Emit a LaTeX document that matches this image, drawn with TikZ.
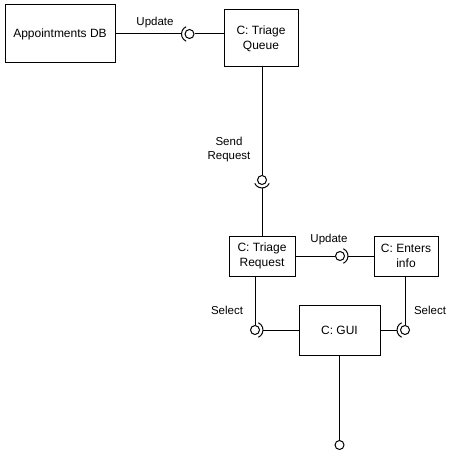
\documentclass[tikz,border=0pt]{standalone}
\usepackage{fontspec}
\setmainfont{Liberation Sans}
\begin{document}
\begin{tikzpicture}[x=1pt,y=-1pt,
  box/.style={draw, line width=1pt, align=center, font=\fontsize{12}{15}\selectfont, inner sep=0pt},
  lolli/.style={draw, circle, minimum size=9pt, inner sep=0pt, line width=1pt},
  wire/.style={line width=1pt},
  sock/.style={line width=1pt},
  lbl/.style={font=\fontsize{11.5}{14}\selectfont, align=center, inner sep=0pt}]
\useasboundingbox (0,0) rectangle (465,462);
% boxes
\node[box, minimum width=110pt, minimum height=58pt] (db) at (60,34) {Appointments DB};
\node[box, minimum width=74pt, minimum height=57pt] (queue) at (261,38.5) {C: Triage\\Queue};
\node[box, minimum width=66pt, minimum height=40pt] (req) at (262,256) {C: Triage\\Request};
\node[box, minimum width=64pt, minimum height=40pt] (ent) at (406,256) {C: Enters\\info};
\node[box, minimum width=81pt, minimum height=50pt] (gui) at (339.5,330) {C: GUI};
% lollipop circles
\node[lolli] (c1) at (189.5,34) {};
\node[lolli] (c2) at (262,180) {};
\node[lolli] (c3) at (340,256) {};
\node[lolli] (c4) at (255,330) {};
\node[lolli] (c5) at (405,330) {};
\node[lolli] (c6) at (339.5,445) {};
% socket arcs
\draw[sock] (c1.center) ++(115:8) arc (115:245:8);
\draw[sock] (c2.center) ++(25:8) arc (25:155:8);
\draw[sock] (c3.center) ++(-65:8) arc (-65:65:8);
\draw[sock] (c4.center) ++(-65:8) arc (-65:65:8);
\draw[sock] (c5.center) ++(115:8) arc (115:245:8);
\coordinate (a1) at (181.5,34);
\coordinate (a2) at (262,188);
\coordinate (a3) at (348,256);
\coordinate (a4) at (263,330);
\coordinate (a5) at (397,330);
% connectors
\draw[wire] (db) -- (a1);
\draw[wire] (c1) -- (queue.west |- c1);
\draw[wire] (queue.south -| c2) -- (c2);
\draw[wire] (a2) -- (req.north -| a2);
\draw[wire] (req) -- (c3);
\draw[wire] (a3) -- (ent);
\draw[wire] (req.south -| c4) -- (c4);
\draw[wire] (a4) -- (gui.west |- a4);
\draw[wire] (ent.south -| c5) -- (c5);
\draw[wire] (gui.east |- a5) -- (a5);
\draw[wire] (gui.south -| c6) -- (c6);
% labels
\node[lbl] (l1) at (155,23) {Update};
\node[lbl] (l2) at (229,150) {Send\\Request};
\node[lbl] (l3) at (329,240) {Update};
\node[lbl] (l4) at (227,310) {Select};
\node[lbl] (l5) at (430,310) {Select};
\end{tikzpicture}
\end{document}
